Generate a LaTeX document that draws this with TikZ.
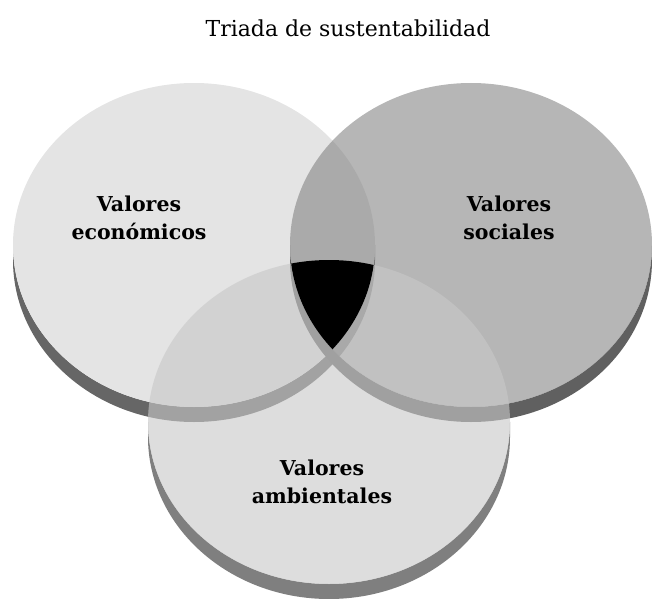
\documentclass[tikz,border=0pt]{standalone}
\usepackage{fontspec}
\setmainfont{DejaVu Serif}
\definecolor{top_eco}{RGB}{228,228,228}
\definecolor{top_soc}{RGB}{131,131,131}
\definecolor{top_amb}{RGB}{200,200,200}
\definecolor{side_eco}{RGB}{102,102,102}
\definecolor{side_soc}{RGB}{96,96,96}
\definecolor{side_amb}{RGB}{127,127,127}
\tikzset{
	disk/.style = {
		draw=none,
		x radius=181pt,
		y radius=162pt
	},
	disk_top_eco/.style = {
		disk,
		fill=top_eco
	},
	disk_top_soc/.style = {
		disk,
		fill=top_soc,
		fill opacity=0.59
	},
	disk_top_amb/.style = {
		disk,
		fill=top_amb,
		fill opacity=0.62
	},
	node_label/.style = {
		align=center,
		inner sep=0pt,
		text centered,
		font=\fontsize{20.5}{28}\selectfont\bfseries
	},
	node_title/.style = {
		inner sep=0pt,
		font=\fontsize{22}{26}\selectfont
	}
}

\begin{document}
\begin{tikzpicture}[x=1pt,y=1pt]
\useasboundingbox (0,0) rectangle (652,598);
\coordinate (c_eco) at (194,353);
\coordinate (c_soc) at (471,353);
\coordinate (c_amb) at (329,176);
% economicos
\fill [side_eco] ([xshift=-181pt]c_eco) arc[start angle=180, end angle=360, x radius=181pt, y radius=162pt]
	-- ++(0,-15) arc[start angle=0, end angle=-180, x radius=181pt, y radius=162pt] -- cycle;
\path [disk_top_eco] (c_eco) ellipse[x radius=181pt, y radius=162pt];
% sociales
\fill [side_soc] ([xshift=-181pt]c_soc) arc[start angle=180, end angle=360, x radius=181pt, y radius=162pt]
	-- ++(0,-15) arc[start angle=0, end angle=-180, x radius=181pt, y radius=162pt] -- cycle;
\path [disk_top_soc] (c_soc) ellipse[x radius=181pt, y radius=162pt];
% ambientales
\fill [side_amb] ([xshift=-181pt]c_amb) arc[start angle=180, end angle=360, x radius=181pt, y radius=162pt]
	-- ++(0,-15) arc[start angle=0, end angle=-180, x radius=181pt, y radius=162pt] -- cycle;
\path [disk_top_amb] (c_amb) ellipse[x radius=181pt, y radius=162pt];
% centro
\begin{scope}
	\clip (c_eco) ellipse[x radius=181pt, y radius=162pt];
	\clip (c_soc) ellipse[x radius=181pt, y radius=162pt];
	\fill [black] (c_amb) ellipse[x radius=181pt, y radius=162pt];
\end{scope}
\node [node_title] (title) at (348,570) {Triada de sustentabilidad};
\node [node_label] (l_eco) at (139,380) {Valores\\económicos};
\node [node_label] (l_soc) at (509,380) {Valores\\sociales};
\node [node_label] (l_amb) at (322,116) {Valores\\ambientales};
\end{tikzpicture}
\end{document}
